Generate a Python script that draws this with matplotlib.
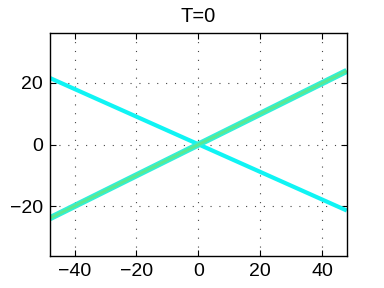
import matplotlib
matplotlib.use("Agg")
import matplotlib.pyplot as plt

plt.rcParams['font.family'] = ['Liberation Sans', 'DejaVu Sans']

# line end points
x_ends = [-48, 48]
y_cyan = [21.5, -21.3]
y_green = [-23.8, 23.8]

x_ticks = [-40, -20, 0, 20, 40]
y_ticks = [-20, 0, 20]

fig = plt.figure(figsize=(3.84, 2.88), dpi=100)
ax = fig.add_axes([0.130, 0.111, 0.773, 0.774])

ax.plot(x_ends, y_cyan, color='#10f4f4', linewidth=3.0, solid_capstyle='butt')
ax.plot(x_ends, y_green, color='#30f0d8', linewidth=4.4, solid_capstyle='butt')
ax.plot(x_ends, y_green, color='#5ee890', linewidth=2.0, solid_capstyle='butt')

ax.set_xlim(-48, 48)
ax.set_ylim(-36, 36)
ax.set_xticks(x_ticks)
ax.set_yticks(y_ticks)
ax.set_xticklabels(['\u2212' + str(-t) if t < 0 else str(t) for t in x_ticks])
ax.set_yticklabels(['\u2212' + str(-t) if t < 0 else str(t) for t in y_ticks])
ax.tick_params(direction='in', length=4, width=0.8, labelsize=14,
               top=True, right=True, pad=5)
ax.grid(True, linestyle=(0, (1, 7)), color='#444444', linewidth=0.8)
for s in ax.spines.values():
    s.set_linewidth(1.0)

ax.set_title('T=0', fontsize=14.5, pad=8)

fig.savefig('out.png', dpi=100)
